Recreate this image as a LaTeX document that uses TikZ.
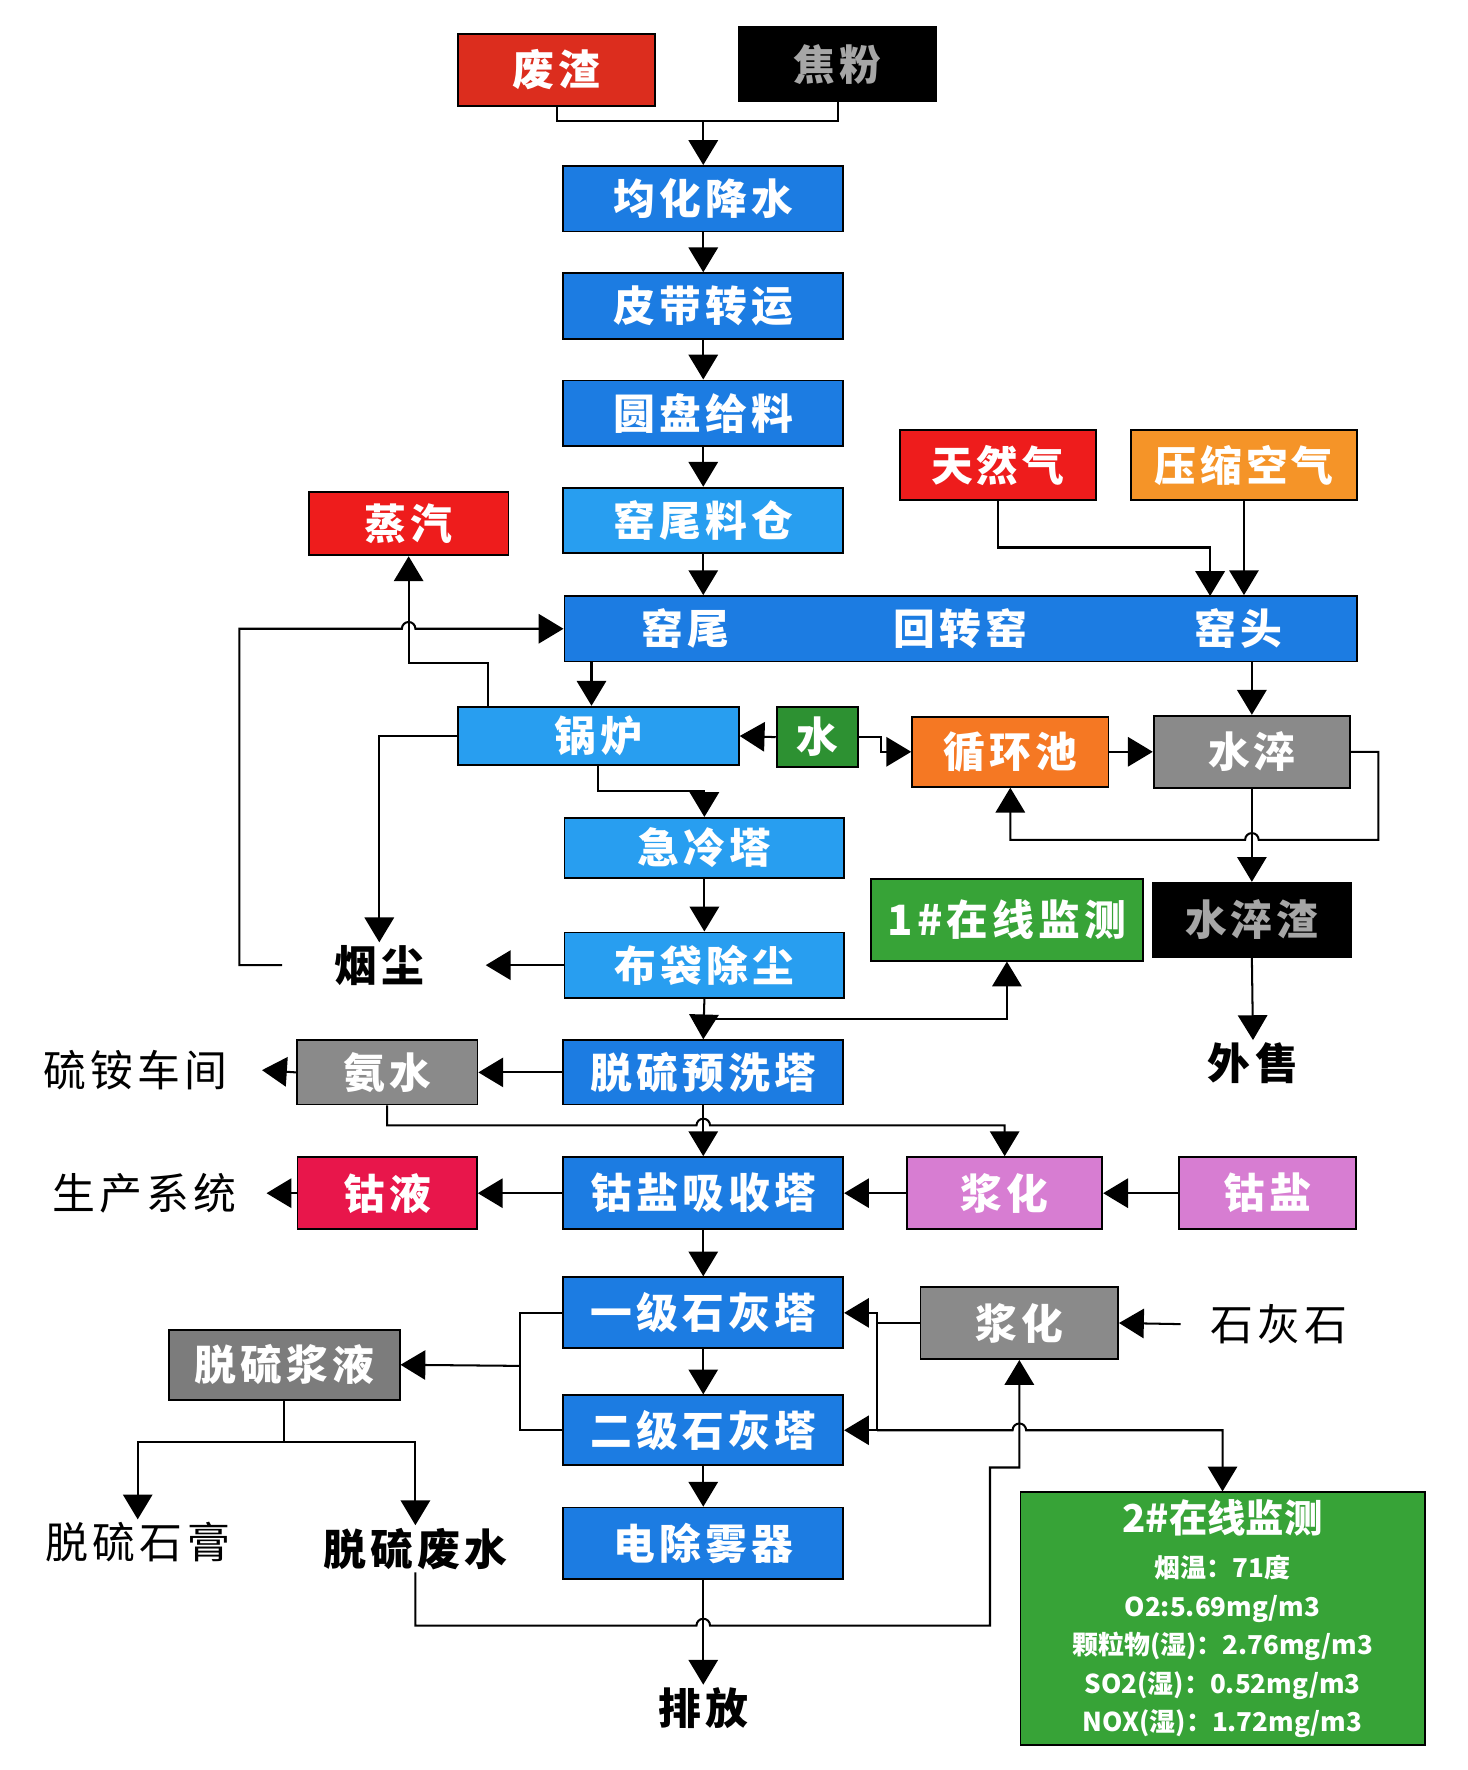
\documentclass[tikz,border=0pt]{standalone}
\usepackage{fontspec}
\setmainfont{Noto Sans CJK SC}
\newfontfamily\boxfont[LetterSpace=10]{Noto Sans CJK SC}
\usetikzlibrary{arrows.meta}

\definecolor{procblue}{RGB}{28,124,226}
\definecolor{lightblue}{RGB}{40,158,240}
\definecolor{slagred}{RGB}{220,45,30}
\definecolor{gasred}{RGB}{238,28,28}
\definecolor{airorange}{RGB}{245,148,40}
\definecolor{poolorange}{RGB}{245,120,35}
\definecolor{watergreen}{RGB}{45,145,50}
\definecolor{mongreen}{RGB}{55,163,55}
\definecolor{slaggray}{RGB}{138,138,138}
\definecolor{cored}{RGB}{232,22,75}
\definecolor{saltpink}{RGB}{215,125,210}

\newcommand{\boxtext}{\boxfont\fontsize{18.5}{22}\selectfont\bfseries}
\newcommand{\lbltext}{\boxfont\fontsize{19}{22}\selectfont}
\newcommand{\montext}{\fontsize{11.5}{17}\selectfont\bfseries}

\begin{document}
\begin{tikzpicture}[x=0.5pt, y=-0.5pt,
  box/.style={rectangle, draw=black, line width=0.8pt, inner sep=0pt, align=center, text=white, font=\boxtext},
  tower/.style={box, fill=procblue, minimum width=124pt, minimum height=29pt},
  lbl/.style={font=\lbltext, text=black, inner sep=1pt},
  boldlbl/.style={lbl, font=\lbltext\bfseries},
  arrow/.style={->, >={Triangle[width=13pt,length=11pt]}, line width=0.9pt},
  line/.style={line width=0.9pt}
]
  \useasboundingbox (0,0) rectangle (1300,1568);

  % Raw material (top)
  \node[box, fill=slagred, minimum width=87pt, minimum height=32pt] (feizha) at (493,62) {废渣};
  \node[box, fill=black, text=gray!70, minimum width=87.5pt, minimum height=33pt] (jiaofen) at (742,57) {焦粉};

  % Feed line
  \node[tower] (junhua) at (623,176) {均化降水};
  \node[tower] (pidai) at (623,271) {皮带转运};
  \node[tower] (yuanpan) at (623,366) {圆盘给料};
  \node[tower, fill=lightblue] (liaocang) at (623,461) {窑尾料仓};

  % Rotary kiln and fuel
  \node[box, fill=procblue, minimum width=351pt, minimum height=29pt] (kiln) at (851,557) {回转窑};
  \node[font=\boxtext, text=white] (kilntail) at (607,557) {窑尾};
  \node[font=\boxtext, text=white] (kilnhead) at (1097,557) {窑头};
  \node[box, fill=gasred, minimum width=87pt, minimum height=31pt] (tianranqi) at (884,412) {天然气};
  \node[box, fill=airorange, minimum width=100pt, minimum height=31pt] (yasuo) at (1102,412) {压缩空气};
  \node[box, fill=gasred, minimum width=88.5pt, minimum height=28pt] (zhengqi) at (362,464) {蒸汽};

  % Boiler and slag water loop
  \node[box, fill=lightblue, minimum width=124.5pt, minimum height=26pt] (guolu) at (530,652) {锅炉};
  \node[box, fill=watergreen, minimum width=36pt, minimum height=26.5pt] (shui) at (724,653) {水};
  \node[box, fill=poolorange, minimum width=87pt, minimum height=31pt] (xunhuan) at (895,666) {循环池};
  \node[box, fill=slaggray, minimum width=87pt, minimum height=32pt] (cuihua) at (1109,666) {水淬};
  \node[box, fill=black, text=gray!70, minimum width=87.5pt, minimum height=33pt] (cuizha) at (1109,815) {水淬渣};
  \node[boldlbl] (waishou) at (1110,942) {外售};
  \node[box, fill=mongreen, minimum width=120.5pt, minimum height=36pt] (mon1) at (892,815) {1\#在线监测};

  % Gas cleaning
  \node[box, fill=lightblue, minimum width=124pt, minimum height=26.5pt] (jileng) at (624,751) {急冷塔};
  \node[box, fill=lightblue, minimum width=124pt, minimum height=29pt] (budai) at (624,855) {布袋除尘};
  \node[boldlbl] (yanchen) at (336,855) {烟尘};
  \node[tower, minimum height=28.5pt] (yuxi) at (623,950) {脱硫预洗塔};
  \node[box, fill=slaggray, minimum width=80pt, minimum height=28.5pt] (anshui) at (343,950) {氨水};
  \node[lbl] (liuan) at (120,948) {硫铵车间};

  % Cobalt absorption
  \node[tower, minimum height=32pt] (xishou) at (623,1057) {钴盐吸收塔};
  \node[box, fill=saltpink, minimum width=86.5pt, minimum height=32pt] (jianghuaP) at (890,1057) {浆化};
  \node[box, fill=saltpink, minimum width=78.5pt, minimum height=32pt] (guyan) at (1123,1057) {钴盐};
  \node[box, fill=cored, minimum width=79.5pt, minimum height=32pt] (guye) at (343,1057) {钴液};
  \node[lbl] (shengchan) at (128,1057) {生产系统};

  % Lime towers
  \node[tower, minimum height=31.5pt] (yiji) at (623,1163) {一级石灰塔};
  \node[tower, minimum height=31pt] (erji) at (623,1267) {二级石灰塔};
  \node[tower, minimum height=31.5pt] (chuwu) at (623,1367) {电除雾器};
  \node[boldlbl] (paifang) at (623,1513) {排放};
  \node[box, fill=slaggray, minimum width=87.5pt, minimum height=32pt] (jianghuaG) at (903,1172) {浆化};
  \node[lbl] (shihuishi) at (1133,1173) {石灰石};
  \node[box, fill=slaggray!90!black, minimum width=102pt, minimum height=31pt] (jiangye) at (252,1209) {脱硫浆液};
  \node[lbl] (shigao) at (122,1366) {脱硫石膏};
  \node[boldlbl] (feishui) at (368,1372) {脱硫废水};

  % Online monitor 2
  \node[box, fill=mongreen, minimum width=179pt, minimum height=112pt, font=\montext] (mon2) at (1083,1434)
    {{\fontsize{17}{20}\selectfont 2\#在线监测}\\[3pt]
     烟温：71度\\
     O2:5.69mg/m3\\
     颗粒物(湿)：2.76mg/m3\\
     SO2(湿)：0.52mg/m3\\
     NOX(湿)：1.72mg/m3};

  % Raw material to kiln
  \coordinate (mix) at (623,107);
  \draw[line] (feizha.south) |- (mix) -| (jiaofen.south);
  \draw[arrow] (mix) -- (junhua.north);
  \draw[arrow] (junhua) -- (pidai);
  \draw[arrow] (pidai) -- (yuanpan);
  \draw[arrow] (yuanpan) -- (liaocang);
  \draw[arrow] (liaocang) -- (liaocang.south |- kiln.north);

  % Fuel and air into kiln head
  \coordinate (kgas) at (1072,528);
  \draw[arrow] (tianranqi.south) |- (1072,485) -- (kgas);
  \draw[arrow] (yasuo.south) -- (yasuo.south |- kiln.north);

  % Kiln head to slag quench loop
  \draw[arrow] (cuihua.north |- kiln.south) -- (cuihua.north);
  \draw[arrow] (xunhuan.east) -- (cuihua.west);
  \draw[arrow] (cuihua.east) -- (1221,666) -- (1221,744) -- (1115,744)
    arc[start angle=0, end angle=180, radius=3pt] -- (895,744) -- (xunhuan.south);
  \draw[arrow] (cuihua.south) -- (cuizha.north);
  \draw[arrow] (cuizha.south) -- (waishou.north);

  % Kiln tail to boiler
  \draw[arrow] ([xshift=-3pt]guolu.north |- kiln.south) -- ([xshift=-3pt]guolu.north);
  \draw[arrow] (shui.west) -- (guolu.east);
  \draw[arrow] (shui.east) -- ++(20,0) |- (xunhuan.west);
  \draw[arrow] ([xshift=14pt]guolu.north west) |- (362,587) -- (zhengqi.south);
  \draw[arrow] (guolu.west) -| (yanchen.north);
  \draw[arrow] (guolu.south) -- ++(0,22) -| (jileng.north);

  % Dust back to kiln tail
  \coordinate (dustout) at (250,855);
  \draw[arrow] (dustout) -- (212,855) -- (212,557) -- (356,557)
    arc[start angle=180, end angle=0, radius=3pt] -- (kiln.west);

  % Gas cleaning line
  \draw[arrow] (jileng) -- (budai);
  \draw[arrow] (budai.west) -- ([xshift=26pt]yanchen.east);
  \draw[arrow] (budai.south) -- (yuxi.north);
  \coordinate (m1) at (624,903);
  \draw[arrow] (m1) -| (mon1.south);
  \draw[arrow] (yuxi.west) -- (anshui.east);
  \draw[arrow] (anshui.west) -- ([xshift=14pt]liuan.east);
  \draw[arrow] (anshui.south) |- (617,997)
    arc[start angle=180, end angle=0, radius=3pt] -| (jianghuaP.north);
  \draw[arrow] (yuxi.south) -- (xishou.north);

  % Cobalt salt
  \draw[arrow] (guyan.west) -- (jianghuaP.east);
  \draw[arrow] (jianghuaP.west) -- (xishou.east);
  \draw[arrow] (xishou.west) -- (guye.east);
  \draw[arrow] (guye.west) -- ([xshift=12pt]shengchan.east);
  \draw[arrow] (xishou.south) -- (yiji.north);

  % Lime towers
  \draw[arrow] (yiji.south) -- (erji.north);
  \draw[arrow] (erji.south) -- (chuwu.north);
  \draw[arrow] (chuwu.south) -- (paifang.north);
  \draw[arrow] ([xshift=-12pt]shihuishi.west) -- (jianghuaG.east);
  \coordinate (jtop) at (777,1163);
  \coordinate (jbot) at (777,1267);
  \draw[arrow] (jianghuaG.west) -- (777,1172) |- (yiji.east);
  \draw[arrow] (jtop) -- (jbot) -- (erji.east);
  \draw[arrow] (jbot) -- (897,1267)
    arc[start angle=180, end angle=0, radius=3pt] -| (mon2.north);

  % Slurry discharge
  \coordinate (lv) at (461,1210);
  \draw[line] (yiji.west) -| (lv) |- (erji.west);
  \draw[arrow] (lv) -- (jiangye.east);
  \draw[line] (jiangye.south) -- ++(0,37) coordinate (split);
  \draw[arrow] (split) -| (shigao.north);
  \draw[arrow] (split) -| (feishui.north);
  \draw[arrow] (feishui.south) |- (617,1440)
    arc[start angle=180, end angle=0, radius=3pt] -- (877,1440) -- (877,1300) -| (jianghuaG.south);
\end{tikzpicture}
\end{document}
